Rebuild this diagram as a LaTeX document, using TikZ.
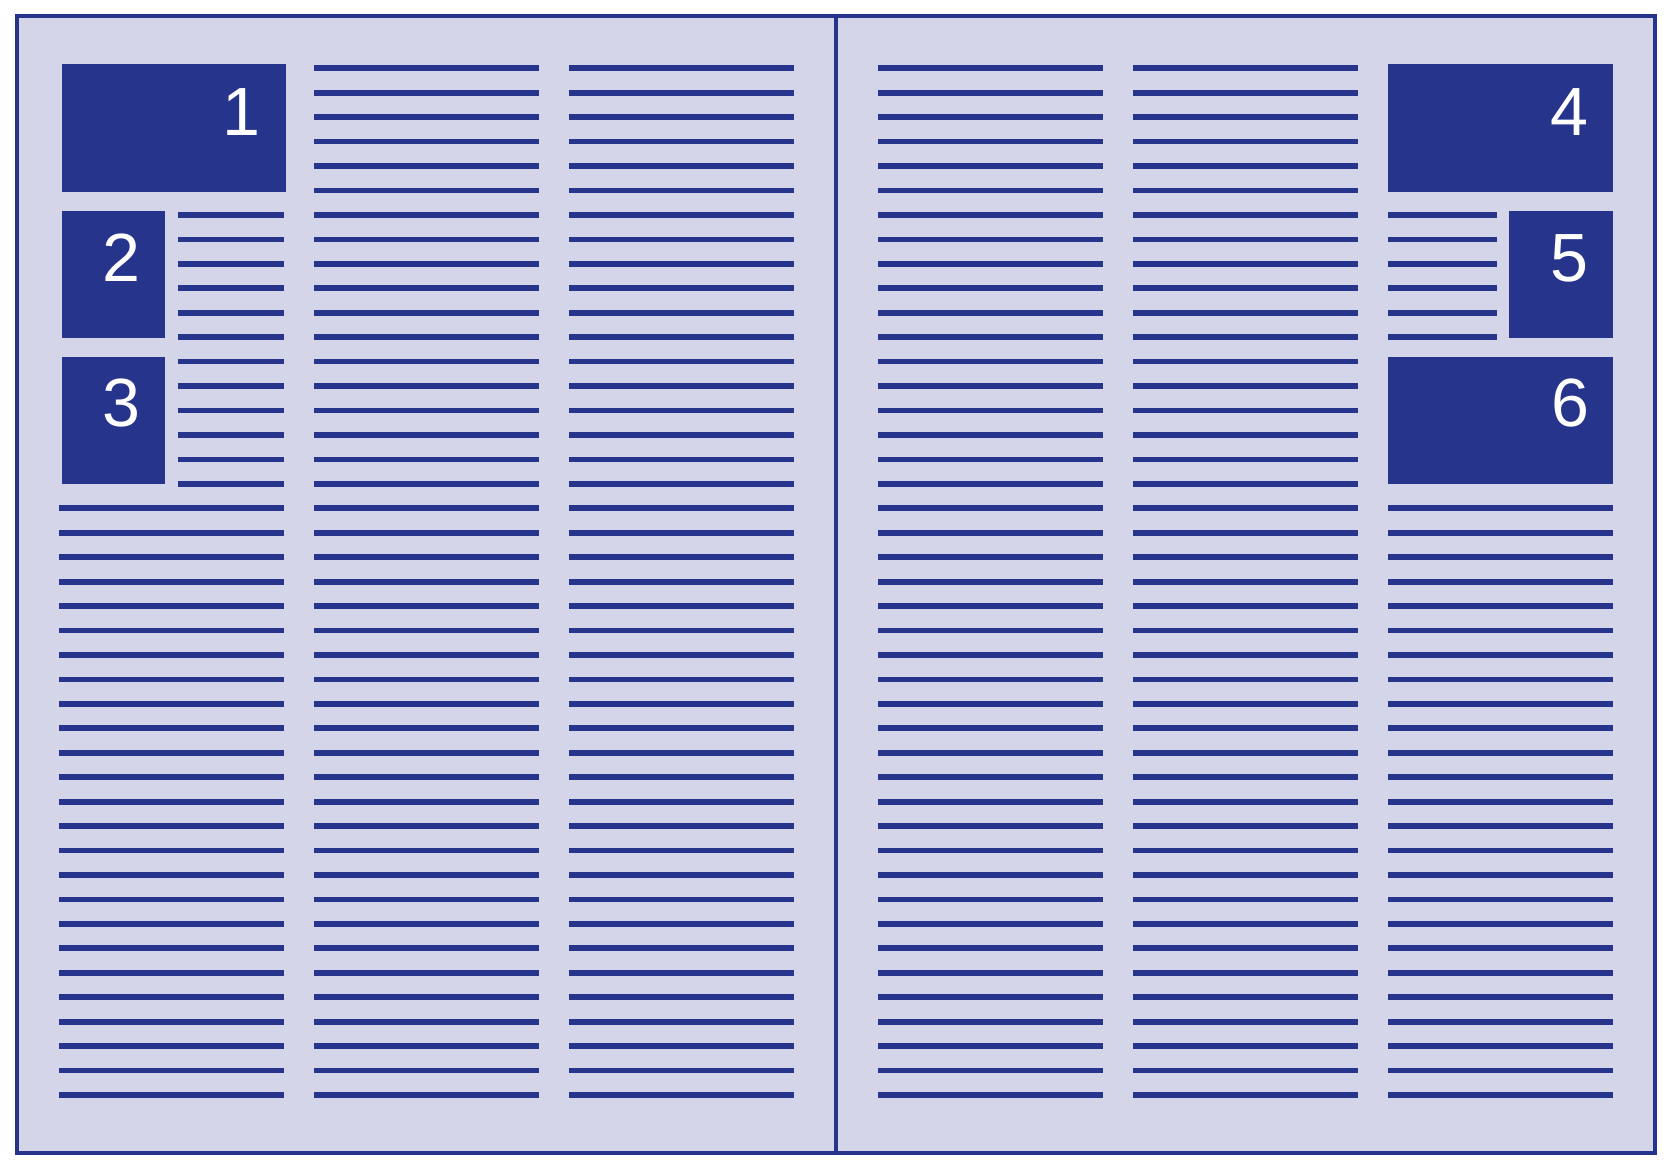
\documentclass[tikz,border=0pt]{standalone}
\usepackage{fontspec}
\setmainfont{Liberation Sans}
\definecolor{ink}{RGB}{39,52,139}
\definecolor{paper}{RGB}{212,213,232}
\begin{document}
\begin{tikzpicture}[x=0.01cm,y=-0.01cm,
  textline/.style={draw=ink,line width=0.057cm,line cap=butt},
  picbox/.style={fill=ink,draw=none,anchor=north west,inner sep=0pt,outer sep=0pt},
  digit/.style={text=white,font=\fontsize{19.4}{20}\selectfont,inner sep=0pt}]
\useasboundingbox (0,0) rectangle (1667,1170);
% spread
\draw[fill=paper,draw=ink,line width=0.04cm] (17,16) rectangle (1655,1153);
\coordinate (gtop) at (836,16);
\coordinate (gbot) at (836,1153);
\draw[draw=ink,line width=0.04cm] (gtop) -- (gbot);
% boxes
\node[picbox,minimum width=224.4*0.01cm,minimum height=128*0.01cm] (b1) at (62,64.3) {};
\node[picbox,minimum width=103*0.01cm,minimum height=127.6*0.01cm] (b2) at (62,210.7) {};
\node[picbox,minimum width=103*0.01cm,minimum height=127.3*0.01cm] (b3) at (62,356.7) {};
\node[picbox,minimum width=224.4*0.01cm,minimum height=128*0.01cm] (b4) at (1388.3,64.3) {};
\node[picbox,minimum width=103.4*0.01cm,minimum height=127.6*0.01cm] (b5) at (1509.3,210.7) {};
\node[picbox,minimum width=224.4*0.01cm,minimum height=127.3*0.01cm] (b6) at (1388.3,356.7) {};
% digits
\node[digit] (d1) at (241,112) {1};
\node[digit] (d2) at (121,257.5) {2};
\node[digit] (d3) at (121,403.5) {3};
\node[digit] (d4) at (1569,112.5) {4};
\node[digit] (d5) at (1569.5,258.5) {5};
\node[digit] (d6) at (1570,403.5) {6};
% text lines
\foreach \i in {18,...,42} {
  \draw[textline] (59.3,68.3+\i*24.445) -- (283.7,68.3+\i*24.445);
  \draw[textline] (1388.3,68.3+\i*24.445) -- (1612.7,68.3+\i*24.445);
}
\foreach \i in {6,...,17} {
  \draw[textline] (177.7,68.3+\i*24.445) -- (283.7,68.3+\i*24.445);
}
\foreach \i in {6,...,11} {
  \draw[textline] (1388.3,68.3+\i*24.445) -- (1496.7,68.3+\i*24.445);
}
\foreach \i in {0,...,42} {
  \foreach \xa in {314.3,569.3,878.3,1133.3} {
    \draw[textline] (\xa,68.3+\i*24.445) -- (\xa+224.4,68.3+\i*24.445);
  }
}
\end{tikzpicture}
\end{document}
